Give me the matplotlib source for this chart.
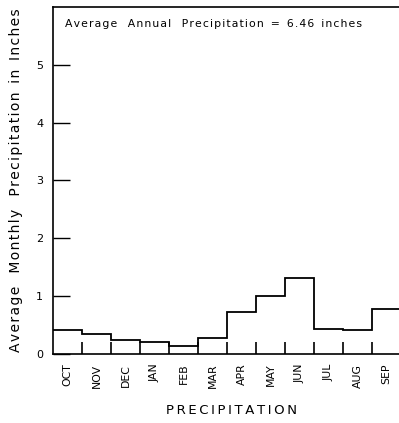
import matplotlib
matplotlib.use("Agg")
import matplotlib.pyplot as plt
import numpy as np

months = ["OCT", "NOV", "DEC", "JAN", "FEB", "MAR", "APR", "MAY", "JUN", "JUL", "AUG", "SEP"]
precip = [0.42, 0.34, 0.25, 0.21, 0.14, 0.27, 0.73, 1.01, 1.32, 0.44, 0.42, 0.77]
yticks = [0, 1, 2, 3, 4, 5]
annual_text = "Average   Annual   Precipitation  =  6.46  inches"
ylabel_text = "Average   Monthly   Precipitation  in  Inches"
xlabel_text = "PRECIPITATION"


def spaced(s, sp="\u200a"):
    words = s.split(" ")
    return " ".join(sp.join(w) for w in words)


plt.rcParams['font.family'] = ['DejaVu Sans']
fig = plt.figure(figsize=(3.99, 4.23), dpi=100)
ax = fig.add_axes([53/399, 1-354/423, 348/399, 347/423])

edges = np.arange(len(months) + 1)
ax.stairs(precip, edges, color='black', linewidth=1.3, baseline=None)
ax.set_xlim(0, 12)
ax.set_ylim(0, 6)

ax.set_xticks(edges[1:-1])
ax.set_xticklabels([])
ax.set_xticks(edges[:-1] + 0.5, minor=True)
ax.set_xticklabels(months, minor=True, rotation=90, fontsize=7.8)
ax.tick_params(axis='x', which='major', direction='in', length=9, width=1.2)
ax.tick_params(axis='x', which='minor', length=0, pad=7)

ax.set_yticks(yticks)
ax.set_yticklabels([str(v) for v in yticks], fontsize=8)
ax.tick_params(axis='y', direction='in', length=12, width=1.0, pad=7)

for s in ['left', 'top', 'bottom']:
    ax.spines[s].set_linewidth(1.2)
ax.spines['right'].set_visible(False)

ax.text(12/348, 0.965, spaced(annual_text), transform=ax.transAxes, fontsize=7.8,
        ha='left', va='top')

fig.text(231/399, 1-410/423, spaced(xlabel_text, "\u2009"), ha='center', va='center', fontsize=9.5)
fig.text(16/399, 1-180/423, spaced(ylabel_text),
         rotation=90, ha='center', va='center', fontsize=10)

fig.savefig("out.png", dpi=100)
